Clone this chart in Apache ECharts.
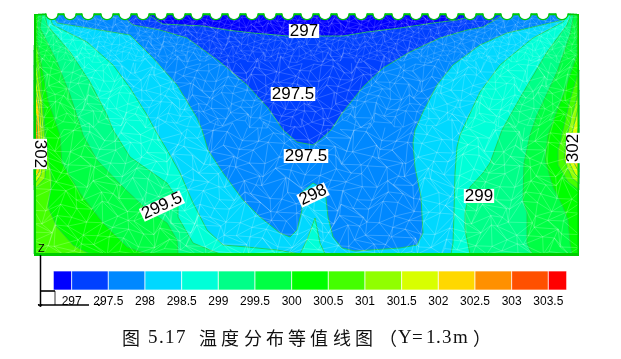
<!DOCTYPE html>
<html><head><meta charset="utf-8">
<script src="https://cdn.jsdelivr.net/npm/echarts@6/dist/echarts.min.js"></script>
<style>html,body{margin:0;padding:0;background:#fff}#c{width:621px;height:359px}</style>
</head><body><div id="c"></div>
<script>
// ---- colour scale (temperature bands) ----
const bandEdges = [296.75,297,297.5,298,298.5,299,299.5,300,300.5,301,301.5,302,302.5,303,303.5,303.75];
const bandColors = ['#0000ff','#0040ff','#0088ff','#00d8ff','#00ffd8','#00ff88','#00ff44','#00ff00','#44ff00','#90ff00','#d8ff00','#ffd800','#ff9000','#ff5000','#ff0000'];
const tickLevels = [297,297.5,298,298.5,299,299.5,300,300.5,301,301.5,302,302.5,303,303.5];

// ---- isotherms: [distance along section, depth below top] ----
const below300 = [[4,0],[4,2],[3,26],[14,86],[26,121],[28,149],[46,179],[69,209],[93,233],[113,240],[538,240],[536,229],[534,206],[529,193],[519,173],[511,146],[514,121],[529,81],[543,41],[543,0]];
const below2995 = [[8,0],[6,14],[23,48],[36,81],[46,111],[49,121],[63,146],[89,173],[113,196],[133,209],[143,226],[144,240],[498,240],[493,229],[493,199],[489,186],[490,149],[496,121],[503,101],[523,58],[536,21],[540,0]];
const below299 = [[11,0],[13,11],[36,38],[56,68],[73,101],[79,116],[96,143],[133,169],[144,186],[144,203],[159,229],[186,240],[436,240],[431,216],[431,199],[436,173],[449,159],[456,149],[468,116],[486,84],[513,38],[533,11],[537,0]];
const below2985 = [[14,0],[19,11],[53,28],[79,51],[96,74],[113,101],[121,116],[133,136],[146,159],[159,189],[173,216],[189,231],[213,233],[243,236],[266,240],[273,226],[281,204],[286,229],[291,240],[417,240],[419,229],[420,199],[421,159],[423,133],[426,121],[446,78],[466,51],[499,24],[529,8],[534,0]];
const below298 = [[18,0],[23,9],[96,21],[119,44],[143,71],[163,104],[168,116],[174,136],[189,159],[209,186],[226,203],[246,219],[256,223],[263,216],[268,196],[267,179],[279,169],[291,176],[294,203],[299,223],[308,234],[321,237],[366,234],[383,231],[389,219],[387,183],[381,153],[379,129],[381,116],[389,98],[403,71],[419,51],[446,31],[473,19],[499,13],[529,6],[531,0]];
const below2975 = [[86,0],[99,11],[126,16],[153,24],[186,48],[213,71],[234,94],[249,116],[263,128],[279,131],[286,126],[297,116],[309,98],[329,73],[349,54],[376,38],[406,24],[433,16],[449,13],[471,0]];
const below297 = [[113,0],[129,10],[169,12],[193,16],[219,19],[254,22],[266,22],[309,22],[333,18],[366,14],[399,9],[423,6],[446,0]];
const leftAbove3005 = [[0,31],[2,31],[4,36],[8,76],[11,116],[15,146],[18,166],[14,193],[23,213],[39,231],[56,240],[0,240]];
const leftAbove301 = [[0,36],[8,86],[10,116],[12,146],[11,164],[0,176]];
const leftAbove3015 = [[0,51],[6,91],[8,116],[9,146],[7,161],[0,171]];
const leftAbove302 = [[0,66],[5,96],[6,116],[7,146],[5,158],[0,166]];
const leftAbove3025 = [[0,91],[3,106],[4,126],[4,151],[0,161]];
const rightAbove3005 = [[545,56],[536,86],[529,116],[524,136],[524,151],[534,168],[545,176]];
const rightAbove301 = [[545,76],[538,101],[532,126],[530,146],[538,164],[545,170]];
const rightAbove3015 = [[545,91],[540,111],[535,131],[534,146],[541,160],[545,164]];
const rightAbove302 = [[545,111],[540,136],[540,149],[545,158]];

// ---- contour labels ----
const labelText = ['297','297.5','297.5','298','299.5','299','302','302'];
const labelX = [270,259,272,279,128,445,6,539];
const labelY = [17,80,142,181,192,182,140,134];
const labelAngle = [0,0,0,25,25,0,-90,90];

// ---- scalloped top edge (centres of the notches) ----
const notchX = [18,36,54,73,91,109,127,145,163,182,200,218,236,254,273,291,309,327,345,364,382,400,418,436,455,473,491,509,528];

// ---- caption ----
const captionText = ['图','5','.','1','7','温','度','分','布','等','值','线','图','（','Y','=','1','.','3','m','）'];
const captionX = [122,148,159,165,176,199,221,244,266,288,310,333,355,379,398,412,426,436,442,453,473];

const regions = [
  {pts:below300,band:6},{pts:below2995,band:5},{pts:below299,band:4},{pts:below2985,band:3},
  {pts:below298,band:2},{pts:below2975,band:1},{pts:below297,band:0},
  {pts:leftAbove3005,band:8},{pts:leftAbove301,band:9},{pts:leftAbove3015,band:10},{pts:leftAbove302,band:11},{pts:leftAbove3025,band:12},
  {pts:rightAbove3005,band:8},{pts:rightAbove301,band:9},{pts:rightAbove3015,band:10},{pts:rightAbove302,band:11}
];

// finite-element mesh texture (irregular lattice from fixed offset tables)
const jitA=[0.3,-0.4,0.1,0.45,-0.2,-0.45,0.25,-0.1,0.4,-0.3,0.05,-0.35,0.2];
const jitB=[-0.25,0.4,-0.45,0.15,0.35,-0.1,0.45,-0.35,0.2,-0.2,0.3];
const flip=[0,1,1,0,1,0,0,1,0,1,1];
function meshSegs(y0,y1,dx,dy,seed){
  const nx=Math.round(545/dx), ny=Math.round((y1-y0)/dy), P=[], S=[];
  for(let j=0;j<=ny;j++){P[j]=[];for(let i=0;i<=nx;i++){
    const a=jitA[(i*3+j*7+seed)%13], b=jitB[(i*5+j*2+seed)%11];
    P[j][i]=[Math.min(545,Math.max(0,i*545/nx+((i>0&&i<nx)?a*dx:0))),Math.min(240,Math.max(0,y0+j*(y1-y0)/ny+b*dy))];
  }}
  for(let j=0;j<=ny;j++)for(let i=0;i<=nx;i++){
    if(i<nx&&j>0)S.push([P[j][i],P[j][i+1]]);
    if(j<ny){S.push([P[j][i],P[j+1][i]]);
      if(i<nx){ if(flip[(i+j*3)%11])S.push([P[j][i],P[j+1][i+1]]); else S.push([P[j][i+1],P[j+1][i]]);}}
  }
  return S;
}
const meshDense = meshSegs(0,46,6,5.5,1);
const meshMid = meshSegs(46,110,9.5,9,4);
const meshCoarse = meshSegs(110,240,13,12,7);

const single=[[0,0]];
function custom(z,render,extra){return Object.assign({type:'custom',coordinateSystem:'cartesian2d',xAxisIndex:0,yAxisIndex:0,data:single,z:z,silent:true,clip:false,animation:false,renderItem:render},extra||{});}

const option={
  animation:false,backgroundColor:'#fff',
  grid:[{left:34,top:14,width:545,height:242,containLabel:false},{left:35,top:271,width:550,height:19}],
  xAxis:[{type:'value',gridIndex:0,min:0,max:545,show:false},
    {type:'value',gridIndex:1,min:296.5,max:304,interval:0.5,
     axisLine:{show:false},axisTick:{show:false},splitLine:{show:false},
     axisLabel:{show:true,margin:6,fontFamily:'Liberation Sans',fontSize:12,color:'#000',showMinLabel:false,showMaxLabel:false,formatter:v=>tickLevels.indexOf(v)>=0?String(v):''}}],
  yAxis:[{type:'value',gridIndex:0,min:0,max:242,inverse:true,show:false},
    {type:'value',gridIndex:1,min:0,max:1,show:false}],
  series:[
    custom(1,(p,api)=>{const a=api.coord([0,0]),b=api.coord([545,242]);
      return {type:'rect',shape:{x:a[0],y:a[1],width:b[0]-a[0],height:b[1]-a[1]},style:{fill:bandColors[7]}};}),
    custom(2,(p,api)=>({type:'group',children:regions.map(r=>({type:'polygon',shape:{points:r.pts.map(q=>api.coord(q))},
      style:{fill:bandColors[r.band],stroke:'#22cc44',lineWidth:0.8}}))})),
    custom(3,(p,api)=>{
      const mk=(segs,alpha)=>segs.map(s=>{const a=api.coord(s[0]),b=api.coord(s[1]);
        return {type:'line',shape:{x1:a[0],y1:a[1],x2:b[0],y2:b[1]},style:{stroke:'rgba(255,255,255,'+alpha+')',lineWidth:0.7}};});
      return {type:'group',children:mk(meshDense,0.2).concat(mk(meshMid,0.26),mk(meshCoarse,0.3))};}),
    custom(4,(p,api)=>{const a=api.coord([0,0]),b=api.coord([545,242]);const g='#00cc00';
      return {type:'group',children:[
        {type:'rect',shape:{x:a[0],y:a[1],width:b[0]-a[0],height:1.2},style:{fill:g}},
        {type:'rect',shape:{x:a[0],y:a[1],width:2,height:b[1]-a[1]},style:{fill:g}},
        {type:'rect',shape:{x:b[0]-1.5,y:a[1],width:1.5,height:b[1]-a[1]},style:{fill:g}},
        {type:'rect',shape:{x:a[0],y:b[1]-3,width:b[0]-a[0],height:3},style:{fill:g}}]};}),
    custom(5,(p,api)=>({type:'group',children:notchX.flatMap(x=>{const c=api.coord([x,-0.5]);const r=5.8;
      return [{type:'circle',shape:{cx:c[0],cy:c[1],r:r},style:{fill:'#fff'}},
        {type:'arc',shape:{cx:c[0],cy:c[1],r:r+0.4,startAngle:0,endAngle:Math.PI,clockwise:true},style:{stroke:'#00cc00',lineWidth:1.3,fill:null}}];})})),
    {type:'scatter',xAxisIndex:0,yAxisIndex:0,z:6,silent:true,symbolSize:0,animation:false,itemStyle:{opacity:1},
      data:labelText.map((t,i)=>({value:[labelX[i],labelY[i]],
        label:{show:true,position:'inside',formatter:t,rotate:labelAngle[i],opacity:1,fontFamily:'Liberation Sans',fontSize:17,color:'#000',backgroundColor:'#ffffff',padding:[0,1],lineHeight:14}}))},
    custom(2,(p,api)=>({type:'group',children:bandColors.map((c,i)=>{const a=api.coord([bandEdges[i],1]),b=api.coord([bandEdges[i+1],0]);
      return {type:'rect',shape:{x:a[0],y:a[1],width:b[0]-a[0],height:b[1]-a[1]},style:{fill:c,stroke:'rgba(255,255,255,0.85)',lineWidth:0.8}};})}),{xAxisIndex:1,yAxisIndex:1})
  ],
  graphic:{elements:[
    {type:'text',left:38,top:243,z:20,style:{text:'Z',font:'11px "Liberation Sans"',fill:'#000'}},
    {type:'polyline',z:20,shape:{points:[[40.5,255],[40.5,306]]},style:{stroke:'#000',lineWidth:1.5,fill:null}},
    {type:'polyline',z:20,shape:{points:[[38,305],[89,305]]},style:{stroke:'#000',lineWidth:1.5,fill:null}},
    {type:'polyline',z:20,shape:{points:[[41,291],[55,291]]},style:{stroke:'#000',lineWidth:1.6,fill:null}},
    {type:'polyline',z:20,shape:{points:[[55,291],[55,305]]},style:{stroke:'#000',lineWidth:0.8,fill:null}},
    {type:'polyline',z:20,shape:{points:[[38,304],[40.5,307],[42,304]]},style:{stroke:'#000',lineWidth:1,fill:null}},
    {type:'polyline',z:20,shape:{points:[[97,303],[99,306],[102,302]]},style:{stroke:'#000',lineWidth:1,fill:null}}
  ].concat(captionText.map((t,i)=>({type:'text',left:captionX[i],top:329,z:20,
      style:{text:t,font:(/[A-Za-z0-9.=]/.test(t)?'19px "Liberation Serif"':'18px "Noto Sans CJK SC"'),fill:'#111'}})))}
};
const chart=echarts.init(document.getElementById('c'),null,{renderer:'canvas'});
chart.setOption(option);
</script>
</body></html>
